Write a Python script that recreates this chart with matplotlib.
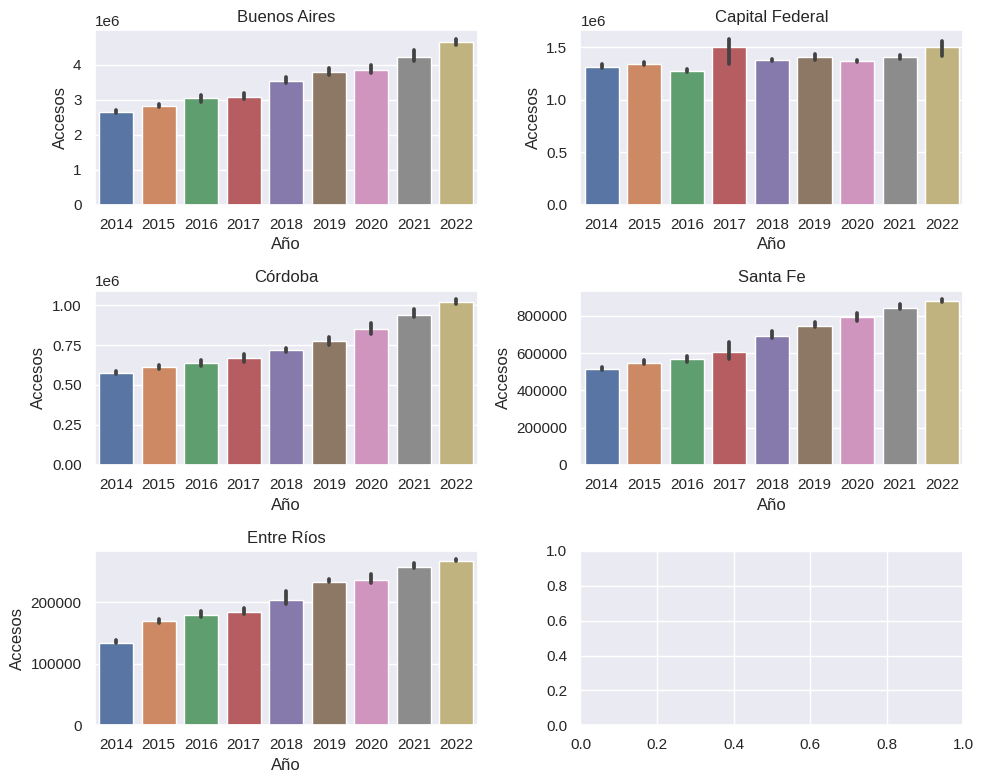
import numpy as np
import matplotlib
matplotlib.use("Agg")
import matplotlib.pyplot as plt
import seaborn as sns

years = ["2014", "2015", "2016", "2017", "2018", "2019", "2020", "2021", "2022"]

provincias = ["Buenos Aires", "Capital Federal", "Córdoba", "Santa Fe", "Entre Ríos"]

# media de accesos por año (altura de barra) y extremos del intervalo de confianza
ba_mean = [2.64e6, 2.81e6, 3.04e6, 3.06e6, 3.53e6, 3.79e6, 3.85e6, 4.22e6, 4.65e6]
ba_low = [2.62e6, 2.78e6, 2.92e6, 3.01e6, 3.48e6, 3.71e6, 3.75e6, 4.11e6, 4.57e6]
ba_high = [2.70e6, 2.87e6, 3.13e6, 3.18e6, 3.63e6, 3.91e6, 3.99e6, 4.41e6, 4.74e6]

cf_mean = [1.308e6, 1.340e6, 1.272e6, 1.500e6, 1.375e6, 1.404e6, 1.365e6, 1.404e6, 1.500e6]
cf_low = [1.301e6, 1.335e6, 1.263e6, 1.343e6, 1.369e6, 1.382e6, 1.362e6, 1.391e6, 1.417e6]
cf_high = [1.340e6, 1.356e6, 1.298e6, 1.583e6, 1.391e6, 1.439e6, 1.381e6, 1.423e6, 1.558e6]

co_mean = [0.572e6, 0.610e6, 0.637e6, 0.667e6, 0.719e6, 0.776e6, 0.851e6, 0.939e6, 1.021e6]
co_low = [0.568e6, 0.601e6, 0.620e6, 0.643e6, 0.708e6, 0.752e6, 0.821e6, 0.924e6, 1.006e6]
co_high = [0.587e6, 0.622e6, 0.656e6, 0.693e6, 0.730e6, 0.800e6, 0.890e6, 0.974e6, 1.038e6]

sf_mean = [514000, 545000, 568000, 606000, 691000, 745000, 793000, 842000, 881000]
sf_low = [511000, 543000, 554000, 568000, 681000, 737000, 770000, 836000, 874000]
sf_high = [523000, 563000, 585000, 657000, 720000, 766000, 817000, 863000, 890000]

er_mean = [134500, 169000, 180000, 183700, 204400, 233800, 237000, 257200, 267700]
er_low = [133200, 166800, 176600, 181500, 197300, 232700, 231600, 255100, 266500]
er_high = [138800, 173300, 186400, 191300, 218000, 238100, 246300, 263200, 270000]

means = [ba_mean, cf_mean, co_mean, sf_mean, er_mean]
lows = [ba_low, cf_low, co_low, sf_low, er_low]
highs = [ba_high, cf_high, co_high, sf_high, er_high]

sns.set_theme()
plt.rcParams["font.family"] = ["Liberation Sans", "DejaVu Sans"]
# seaborn barplot desatura la paleta (saturation=.75)
colors = [sns.desaturate(c, 0.75) for c in sns.color_palette("deep", len(years))]

fig, axes = plt.subplots(3, 2, figsize=(9.84, 7.83), dpi=100)
flat = axes.flatten()

for ax, name, m, lo, hi in zip(flat, provincias, means, lows, highs):
    x = np.arange(len(years))
    ax.bar(x, m, width=0.8, color=colors)
    for xi, l, h in zip(x, lo, hi):
        ax.plot([xi, xi], [l, h], color=".26", lw=2.7, solid_capstyle="round")
    ax.set_xticks(x)
    ax.set_xticklabels(years)
    ax.set_xlim(-0.5, len(years) - 0.5)
    ax.xaxis.grid(False)
    ax.set_title(name)
    ax.set_xlabel("Año")
    ax.set_ylabel("Accesos")

plt.tight_layout(pad=0.6, h_pad=1.08, w_pad=1.08)
plt.savefig("out.png", dpi=100)
